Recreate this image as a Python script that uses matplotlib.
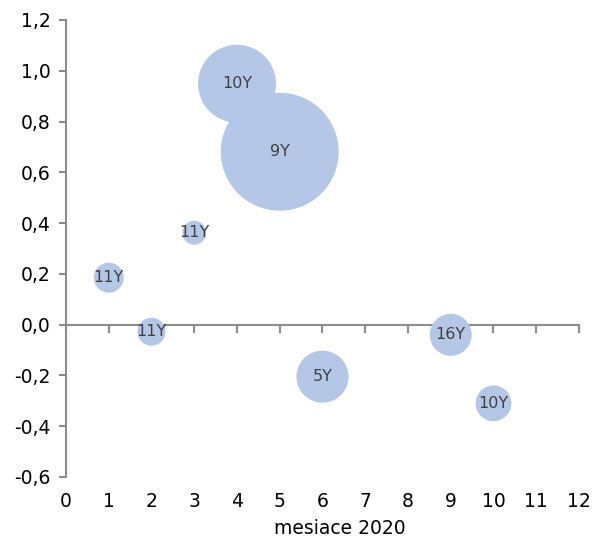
import matplotlib.pyplot as plt
from matplotlib.ticker import FuncFormatter

# data
months = [1, 2, 3, 4, 5, 6, 9, 10]
values = [0.185, -0.028, 0.362, 0.949, 0.681, -0.205, -0.04, -0.31]
sizes = [2.25, 1.96, 1.44, 15.2, 34.8, 6.8, 4.4, 3.2]
labels = ['11Y', '11Y', '11Y', '10Y', '9Y', '5Y', '16Y', '10Y']

bubble_color = '#B4C7E7'
axis_color = '#8C8C8C'
plt.rcParams['font.family'] = ['Verdana', 'DejaVu Sans']

fig = plt.figure(figsize=(5.92, 5.40), dpi=100)
ax = fig.add_axes([0.1115, 0.1167, 0.8665, 0.8463])

# size units -> marker area (points^2)
ax.scatter(months, values, s=[v * 207 for v in sizes], color=bubble_color,
           edgecolors='none', zorder=3, clip_on=False)
for x, y, t in zip(months, values, labels):
    ax.text(x, y, t, ha='center', va='center', fontsize=11.5, color='#404040', zorder=4)

ax.set_xlim(0, 12)
ax.set_ylim(-0.6, 1.2)
ax.set_xticks(range(0, 13))
ax.set_yticks([-0.6, -0.4, -0.2, 0.0, 0.2, 0.4, 0.6, 0.8, 1.0, 1.2])
ax.yaxis.set_major_formatter(FuncFormatter(lambda v, p: f'{v:.1f}'.replace('.', ',')))

for s in ['top', 'right', 'bottom']:
    ax.spines[s].set_visible(False)
ax.spines['left'].set_color(axis_color)
ax.spines['left'].set_linewidth(1.5)
ax.tick_params(axis='y', direction='out', length=5, width=1.5, color=axis_color,
               labelsize=13.5, pad=6)
ax.tick_params(axis='x', length=0, labelsize=13.5, pad=11)

# horizontal axis line at zero with downward ticks
zero_ax = ax.secondary_xaxis(1 / 3)
zero_ax.set_xticks(range(0, 13))
zero_ax.tick_params(direction='out', length=6, width=1.5, color=axis_color,
                    labelbottom=False, labeltop=False)
zero_ax.spines['bottom'].set_color(axis_color)
zero_ax.spines['bottom'].set_linewidth(1.5)
zero_ax.spines['top'].set_visible(False)

ax.set_xlabel('mesiace 2020', fontsize=13.5)
ax.xaxis.set_label_coords(0.534, -0.092)

fig.savefig('out.png', dpi=100)
